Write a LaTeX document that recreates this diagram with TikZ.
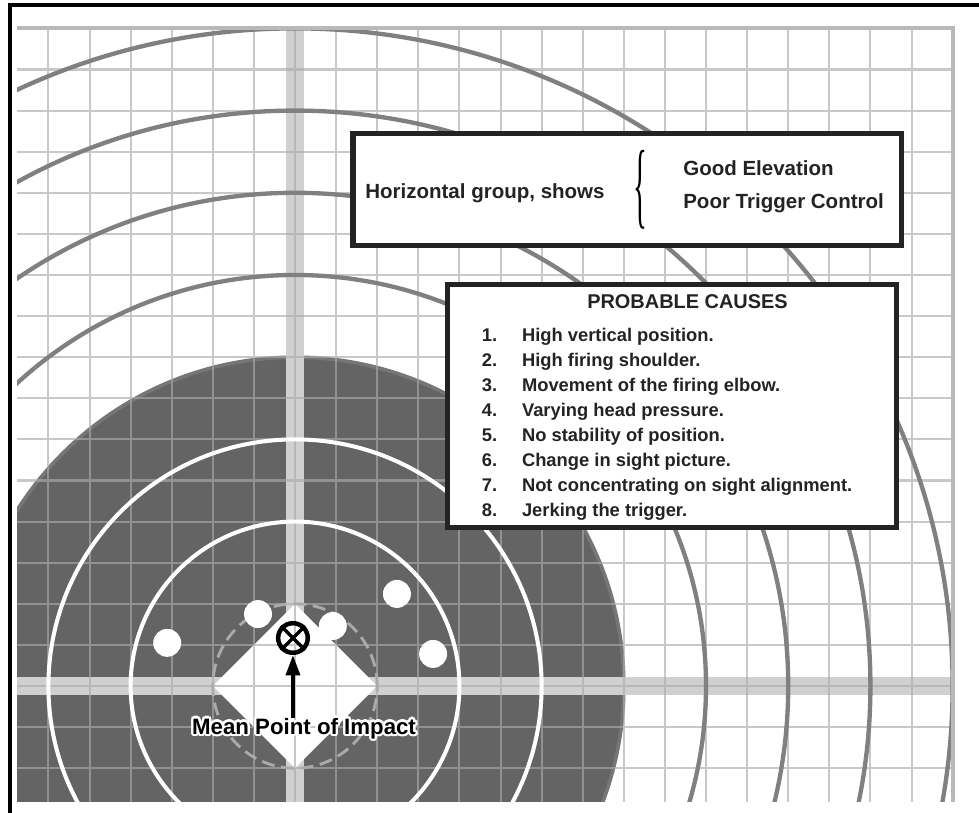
\documentclass[tikz,border=0pt]{standalone}
\usepackage{fontspec}
\setmainfont{Liberation Sans}
\newfontfamily\bracefont{Liberation Serif}
\usepackage{graphicx}
\usepackage{contour}
\contourlength{1.6pt}
\contournumber{12}
\usetikzlibrary{arrows.meta}
\definecolor{TargetDark}{RGB}{100,100,100}
\definecolor{RimGray}{RGB}{118,118,118}
\definecolor{RingGray}{RGB}{128,128,128}
\definecolor{GridGray}{RGB}{170,170,170}
\definecolor{EdgeGray}{RGB}{185,185,185}
\definecolor{BandGray}{RGB}{208,208,208}
\definecolor{DashGray}{RGB}{170,170,170}
\definecolor{InkGray}{RGB}{35,35,35}

\begin{document}
\begin{tikzpicture}[
    gridline/.style={
        draw=GridGray,
        line width=1.4pt,
        opacity=0.65
    },
    gridedge/.style={
        draw=EdgeGray,
        line width=2.8pt
    },
    band/.style={
        draw=BandGray,
        line width=0.42cm
    },
    ring/.style={
        draw=RingGray,
        line width=3pt
    },
    whitering/.style={
        draw=white,
        line width=2.8pt
    },
    groupcircle/.style={
        draw=DashGray,
        line width=2pt,
        dash pattern=on 9pt off 4.6pt
    },
    shot/.style={
        circle,
        fill=white,
        inner sep=0pt,
        minimum size=0.68cm
    },
    mpimark/.style={
        circle,
        draw=black,
        line width=3.1pt,
        inner sep=0pt,
        minimum size=0.72cm
    },
    panel/.style={
        rectangle,
        draw=InkGray,
        fill=white,
        line width=3.5pt
    },
    notetext/.style={
        inner sep=0pt,
        text=InkGray,
        font=\fontsize{14.2pt}{16pt}\selectfont\bfseries
    },
    arrow/.style={
        -{Triangle[length=14pt,width=9.5pt]},
        line width=2.8pt,
        draw=black
    }
]
\useasboundingbox (-7.178,-3.090) rectangle (16.642,16.691);

% outer frame
\draw[black, line width=2.8pt]
(-6.934,-3.090) -- (-6.934,16.569) -- (16.642,16.569);

% target face
\begin{scope}
\clip (-6.76,-2.82) rectangle (16,16);
\fill[TargetDark] (0,0) circle (8);
\draw[RimGray, line width=2.5pt] (0,0) circle (8);
\draw[band] (-6.76,0) -- (16,0);
\draw[band] (0,-2.82) -- (0,16);
\fill[white] (-2,0) -- (0,2) -- (2,0) -- (0,-2) -- cycle;
\draw[gridline]
\foreach \gx in {-6,...,16} {(\gx,-2.82) -- (\gx,16)}
\foreach \gy in {-2,...,16} {(-6.76,\gy) -- (16,\gy)};
\draw[ring] (0,0) circle (10);
\draw[ring] (0,0) circle (12);
\draw[ring] (0,0) circle (14);
\draw[ring] (0,0) circle (16);
\draw[whitering] (0,0) circle (4);
\draw[whitering] (0,0) circle (6);
\draw[groupcircle] (0,0) circle (2);
\end{scope}
\draw[gridedge] (-6.76,16) -- (16,16) -- (16,-2.82);

% shots
\node[shot] (shot1) at (-3.11,1.05) {};
\node[shot] (shot2) at (-0.90,1.75) {};
\node[shot] (shot3) at (0.92,1.46) {};
\node[shot] (shot4) at (2.48,2.24) {};
\node[shot] (shot5) at (3.36,0.78) {};

% mean point of impact
\node[mpimark] (mpi) at (-0.05,1.168) {};
\draw[black, line width=2.4pt]
(mpi.north west) -- (mpi.south east)
(mpi.north east) -- (mpi.south west);

\node[notetext, text=black, anchor=base,
      font=\fontsize{15.4pt}{17pt}\selectfont\bfseries] (mpitext)
at (0.22,-1.168) {\contour{white}{Mean Point of Impact}};

\draw[arrow]
(mpi.south |- mpitext.north) -- (mpi.south);

% summary box
\node[panel, minimum width=13.334cm, minimum height=2.725cm] (summary)
at (8.078,12.069) {};

\node[notetext, anchor=base west] (groupnote)
at (1.703,11.873) {Horizontal group, shows};

\node[inner sep=0pt, text=black] (brace)
at (8.41,12.07) {\bracefont\fontsize{20pt}{20pt}\selectfont\scalebox{1}[3.3]{\{}};

\node[notetext, anchor=base west] (good)
at (9.44,12.409) {Good Elevation};

\node[notetext, anchor=base west] (poor)
at (9.44,11.606) {Poor Trigger Control};

% causes box
\node[panel, minimum width=10.913cm, minimum height=5.913cm] (causes)
at (9.1665,6.8125) {};

\node[notetext, anchor=base west,
      font=\fontsize{13.8pt}{16pt}\selectfont\bfseries] (causestitle)
at (7.104,9.173) {PROBABLE CAUSES};

\node[notetext, anchor=base west,
      font=\fontsize{12.7pt}{17.3pt}\selectfont\bfseries] (causelist)
at (4.54,8.370) {\begin{tabular}[t]{@{}p{27.8pt}@{}l@{}}
1. & High vertical position.\\
2. & High firing shoulder.\\
3. & Movement of the firing elbow.\\
4. & Varying head pressure.\\
5. & No stability of position.\\
6. & Change in sight picture.\\
7. & Not concentrating on sight alignment.\\
8. & Jerking the trigger.
\end{tabular}};

\end{tikzpicture}
\end{document}
